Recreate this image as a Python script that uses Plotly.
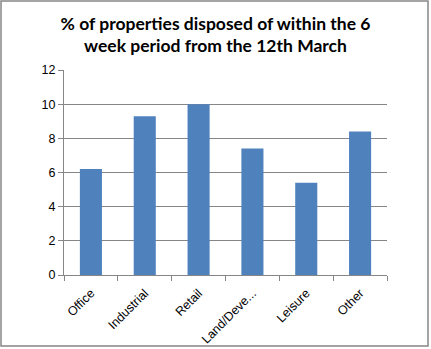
import plotly.graph_objects as go

categories = ["Office", "Industrial", "Retail", "Land/Development", "Leisure", "Other"]
tick_labels = ["Office", "Industrial", "Retail", "Land/Deve...", "Leisure", "Other"]
values = [6.2, 9.3, 10.0, 7.4, 5.4, 8.4]
y_ticks = [0, 2, 4, 6, 8, 10, 12]

W, H = 431, 349
L, R, T, B = 64, 44, 70, 74
pw, ph = W - L - R, H - T - B

fig = go.Figure(go.Bar(
    x=categories, y=values, marker=dict(color="#4f81bd", line=dict(width=0)),
    width=0.41,
))

def px_x(p):
    return (p - L) / pw

def px_y(p):
    return (H - B - p) / ph

fig.update_layout(
    template="none",
    width=W, height=H,
    margin=dict(l=L, r=R, t=T, b=B, autoexpand=False),
    paper_bgcolor="white", plot_bgcolor="white",
    showlegend=False,
    title=dict(
        text="% of properties disposed of within the 6<br>week period from the 12th March",
        x=0.5, xref="container", xanchor="center",
        y=1 - 29.5 / H, yref="container", yanchor="middle",
        font=dict(family="Lato", size=17.5, color="black", weight="bold"),
    ),
    font=dict(family="Liberation Sans", size=12, color="black"),
    xaxis=dict(
        automargin=False,
        tickmode="array", tickvals=categories, ticktext=tick_labels,
        tickangle=-45, tickson="boundaries", ticks="outside", ticklen=5,
        ticklabelstandoff=5,
        tickcolor="#868686", showline=True, linecolor="#868686", linewidth=1,
        showgrid=False, range=[-0.5, 5.5],
        tickfont=dict(family="Liberation Sans", size=12.5),
    ),
    yaxis=dict(
        automargin=False,
        range=[0, 12], tickvals=y_ticks, ticks="outside", ticklen=5,
        tickcolor="#868686", showline=True, linecolor="#868686", linewidth=1,
        showgrid=True, gridcolor="#868686", gridwidth=1, zeroline=False,
        tickfont=dict(family="Liberation Sans", size=12.5),
    ),
    shapes=[dict(
        type="rect", xref="paper", yref="paper",
        x0=px_x(1), x1=px_x(428), y0=px_y(346), y1=px_y(1),
        line=dict(color="#868686", width=1.5), fillcolor="rgba(0,0,0,0)",
        layer="below",
    )],
)

fig.write_html("out.html")
